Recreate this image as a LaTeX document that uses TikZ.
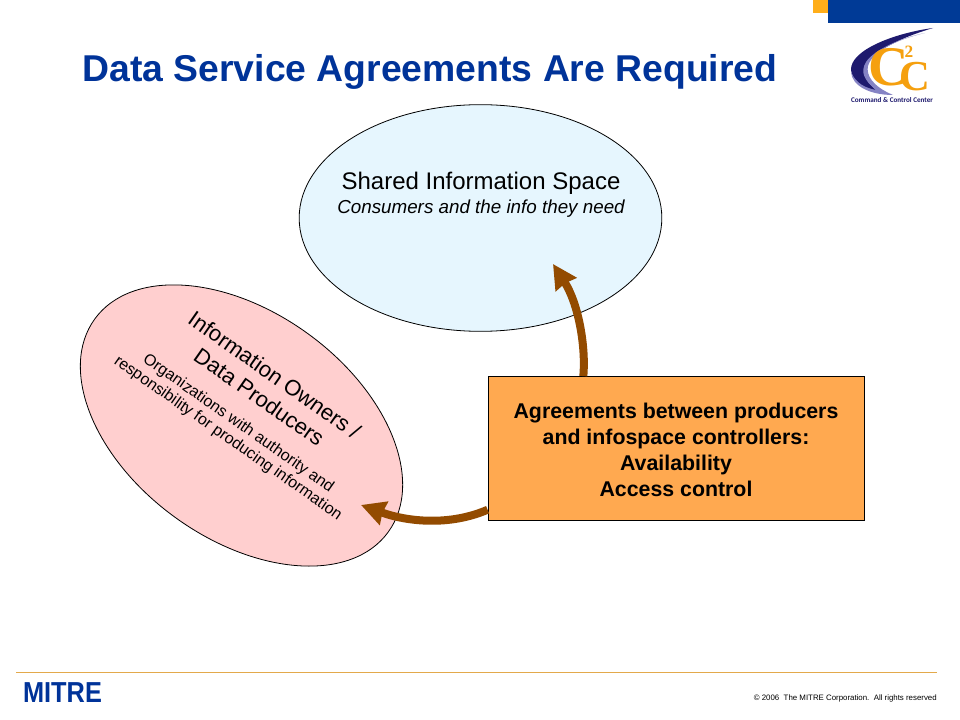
\documentclass[tikz,border=0pt]{standalone}
\usepackage{fontspec}
\setmainfont{Liberation Sans}
\newfontfamily\logoserif{Liberation Serif}
\newfontfamily\logosans{Carlito}
\usetikzlibrary{arrows.meta,shapes.geometric}
\definecolor{titleblue}{HTML}{003399}
\definecolor{barblue}{HTML}{003A96}
\definecolor{accent}{HTML}{FFAE1A}
\definecolor{infofill}{HTML}{E6F6FE}
\definecolor{ownerfill}{HTML}{FFCFCF}
\definecolor{boxfill}{HTML}{FFA950}
\definecolor{arrowbrown}{HTML}{934B00}
\definecolor{rulecolor}{HTML}{E3A94B}
\definecolor{navy}{HTML}{1E1A6E}
\definecolor{peri}{HTML}{8583C4}
\definecolor{logoorange}{HTML}{F5A00F}
\tikzset{
  blob/.style={ellipse,draw=black,line width=0.6pt,minimum width=272pt,minimum height=170pt,inner sep=0pt},
  flowarrow/.style={draw=arrowbrown,line width=6pt,-{Stealth[length=18pt,width=18pt,inset=1pt]}},
  txt/.style={align=center,text=black,inner sep=0pt},
}
\begin{document}
\begin{tikzpicture}[x=0.75pt,y=-0.75pt]
\useasboundingbox (0,0) rectangle (960,720);
\fill[white] (0,0) rectangle (960,720);
% corner bars
\fill[barblue] (828,0) rectangle (960,22.7);
\fill[accent] (813,0) rectangle (828,13);
% title
\node[anchor=center,text=titleblue,inner sep=0pt,font=\fontsize{28}{32}\selectfont\bfseries] (title) at (430,72) {Data Service Agreements Are Required};
% logo
\fill[navy] (933,28) .. controls (895,33) and (850,50) .. (851,70) .. controls (852,80) and (862,88) .. (880,93) .. controls (868,84) and (862,76) .. (865,68) .. controls (870,52) and (900,38) .. (933,28) -- cycle;
\fill[peri] (925,33) .. controls (895,40) and (872,52) .. (868,66) .. controls (866,75) and (872,86) .. (893,95) .. controls (870,95) and (852,86) .. (851,72) .. controls (856,84) and (866,88) .. (876,90) .. controls (864,80) and (860,72) .. (866,62) .. controls (874,50) and (900,38) .. (925,33) -- cycle;
\node[inner sep=0pt,text=logoorange,font=\logoserif\bfseries\fontsize{42}{42}\selectfont] (logoa) at (889,67) {C};
\node[inner sep=0pt,text=logoorange,font=\logoserif\bfseries\fontsize{32}{32}\selectfont] (logob) at (915,77) {C};
\node[inner sep=0pt,text=logoorange,font=\logoserif\bfseries\fontsize{13}{13}\selectfont] (logoc) at (909,52) {2};
\node[inner sep=0pt,text=navy,font=\logosans\bfseries\fontsize{5.35}{6}\selectfont] (logod) at (892,100) {Command \& Control Center};
% ellipses
\node[blob,fill=infofill] (space) at (480.5,218) {};
\node[blob,fill=ownerfill,rotate=-36,minimum width=272pt,minimum height=170pt] (owners) at (241.5,425.5) {};
\node[txt,font=\fontsize{18}{21}\selectfont] (spacet) at (481,183) {Shared Information Space};
\node[txt,font=\itshape\fontsize{14.1}{16}\selectfont] (spaces) at (481,209) {Consumers and the info they need};
\node[txt,rotate=-35,font=\fontsize{16.5}{20}\selectfont] (ownerst) at (267,386) {Information Owners /\\Data Producers};
\node[txt,rotate=-35,font=\fontsize{12}{13.5}\selectfont] (ownerss) at (233,431) {Organizations with authority and\\responsibility for producing information};
% box and arrows
\coordinate (tipa) at (553,264);
\coordinate (tipb) at (361,505);
\node[minimum width=282pt,minimum height=108pt,inner sep=0pt,draw=black,line width=0.6pt,fill=boxfill] (box) at (676,448.5) {};
\draw[flowarrow] (box.142) .. controls (586,345) and (578,303) .. (tipa);
\draw[flowarrow] (box.198.1) .. controls (450,526) and (408,522) .. (tipb);
\node[txt,font=\bfseries\fontsize{16}{19.4}\selectfont] (boxt) at (676,450) {Agreements between producers\\and infospace controllers:\\Availability\\Access control};
% footer
\draw[rulecolor,line width=0.7pt] (16,672.5) -- (937,672.5);
\node[inner sep=0pt,text=titleblue,font=\bfseries\fontsize{19}{19}\selectfont] (mitre) at (62.5,693) {\scalebox{1}[1.14]{MITRE}};
\node[anchor=east,inner sep=0pt,text=black,font=\fontsize{5.9}{7}\selectfont] (copy) at (937,698) {© 2006\ \ The MITRE Corporation.\ \ All rights reserved};
\end{tikzpicture}
\end{document}
